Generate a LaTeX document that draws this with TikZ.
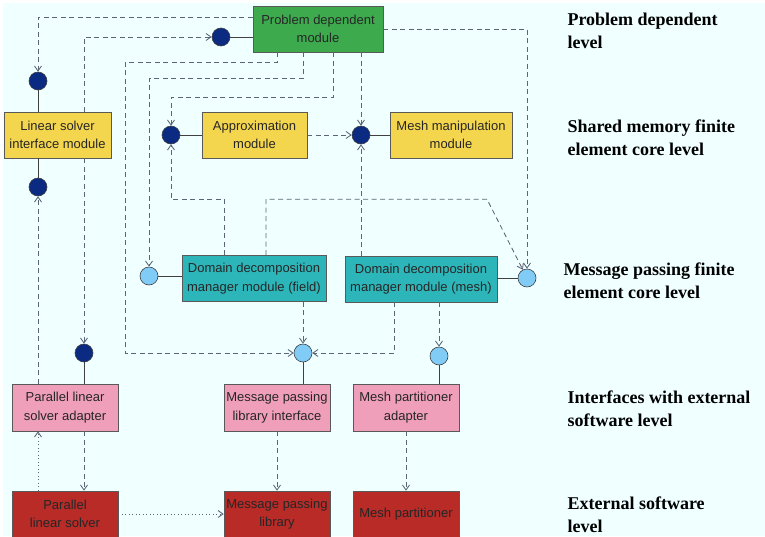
\documentclass[tikz,border=0pt]{standalone}
\usepackage{fontspec}
\setmainfont{Liberation Serif}
\setsansfont{Liberation Sans}
\usepackage{tikz}
\usetikzlibrary{shapes,arrows.meta}
\usetikzlibrary{calc}
\usetikzlibrary{positioning}

\definecolor{bgcol}{HTML}{F0FFFF}
\definecolor{pdgreen}{HTML}{3DAA4E}
\definecolor{coreyellow}{HTML}{F4D64E}
\definecolor{mpteal}{HTML}{2DB6B9}
\definecolor{ifpink}{HTML}{F09FBB}
\definecolor{extred}{HTML}{B82B27}
\definecolor{portdark}{HTML}{0B2A82}
\definecolor{portlight}{HTML}{80CCF7}
\definecolor{linkgray}{HTML}{5C6475}

\begin{document}
\begin{tikzpicture}[x=1pt,y=-1pt,
		module/.style={draw=black!65,line width=0.6pt,minimum height=46pt,inner sep=2pt,align=center,
			font=\sffamily\fontsize{13}{18.5}\selectfont,text=black!85},
		pdmod/.style={module,fill=pdgreen},
		coremod/.style={module,fill=coreyellow},
		mpmod/.style={module,fill=mpteal},
		ifmod/.style={module,fill=ifpink},
		extmod/.style={module,fill=extred},
		port/.style={circle,draw=black!75,line width=0.6pt,minimum size=18pt,inner sep=0pt},
		darkport/.style={port,fill=portdark},
		lightport/.style={port,fill=portlight},
		wire/.style={draw=black!75,line width=0.8pt},
		dep/.style={draw=linkgray,line width=0.85pt,dash pattern=on 5pt off 3.5pt,
			-{Straight Barb[length=5pt,width=7pt]}},
		uses/.style={draw=linkgray,line width=0.85pt,dash pattern=on 1pt off 2.5pt,
			-{Straight Barb[length=5pt,width=7pt]}},
		level/.style={anchor=west,align=left,font=\bfseries\fontsize{18}{23}\selectfont}]
		\useasboundingbox (0,0) rectangle (765,536);
		\clip (0,0) rectangle (765,536);
		\fill[white] (0,0) rectangle (765,536);
		\fill[bgcol] (3,3) rectangle (765,536);

		% modules
		\node[pdmod,minimum width=130pt] (pd) at (318,29) {Problem dependent\\module};
		\node[coremod,minimum width=107pt] (lsi) at (57.5,135) {Linear solver\\interface module};
		\node[coremod,minimum width=105pt] (approx) at (254.5,135) {Approximation\\module};
		\node[coremod,minimum width=122pt] (meshman) at (451,135) {Mesh manipulation\\module};
		\node[mpmod,minimum width=144pt] (ddf) at (254,278.5) {Domain decomposition\\manager module (field)};
		\node[mpmod,minimum width=152pt] (ddm) at (421,279) {Domain decomposition\\manager module (mesh)};
		\node[ifmod,minimum width=106pt,minimum height=47pt] (plsa) at (65,407.5) {Parallel linear\\solver adapter};
		\node[ifmod,minimum width=106pt,minimum height=47pt] (mpli) at (277,407.5) {Message passing\\library interface};
		\node[ifmod,minimum width=106pt,minimum height=47pt] (mpa) at (406,407.5) {Mesh partitioner\\adapter};
		\node[extmod,minimum width=106pt] (pls) at (65,514) {Parallel\\linear solver};
		\node[extmod,minimum width=106pt] (mpl) at (277,514) {Message passing\\library};
		\node[extmod,minimum width=106pt] (mp) at (406,514) {Mesh partitioner};

		% ports
		\node[darkport] (pdport) at (221,37) {};
		\node[darkport] (lsiup) at (38,81) {};
		\node[darkport] (lsidown) at (38,187) {};
		\node[darkport] (apport) at (171,135) {};
		\node[darkport] (mmport) at (361,135) {};
		\node[lightport] (ddfport) at (149,276) {};
		\node[lightport] (ddmport) at (527,278) {};
		\node[darkport] (plsaport) at (84,353) {};
		\node[lightport] (mpliport) at (303,353) {};
		\node[lightport] (mpaport) at (439,356) {};

		\draw[wire] (pdport) -- (pdport -| pd.west);
		\draw[wire] (lsiup) -- (lsiup |- lsi.north);
		\draw[wire] (lsidown) -- (lsidown |- lsi.south);
		\draw[wire] (apport) -- (approx.west);
		\draw[wire] (mmport) -- (meshman.west);
		\draw[wire] (ddfport) -- (ddfport -| ddf.west);
		\draw[wire] (ddmport) -- (ddmport -| ddm.east);
		\draw[wire] (plsaport) -- (plsaport |- plsa.north);
		\draw[wire] (mpliport) -- (mpliport |- mpli.north);
		\draw[wire] (mpaport) -- (mpaport |- mpa.north);

		% dependencies
		\draw[dep] ([yshift=12pt]pd.west) -| (lsiup);
		\draw[dep] (lsi.north -| plsaport) |- (pdport);
		\draw[dep] (lsi.south -| plsaport) -- (plsaport);
		\draw[dep] ([xshift=-41pt]pd.south) |- ++(-152,10) |- (mpliport);
		\draw[dep] ([xshift=-15pt]pd.south) |- ++(-154,26) -- (ddfport);
		\draw[dep] ([xshift=15pt]pd.south) |- ++(-162,45) -- (apport);
		\draw[dep] (pd.south -| mmport) -- (mmport);
		\draw[dep] (pd.east) -| (ddmport);
		\draw[dep] (approx.east) -- (mmport);
		\draw[dep] ([xshift=-30pt]ddf.north) |- ++(-53,-56) -- (apport);
		\draw[dep] ([xshift=12pt]ddf.north) |- ++(221,-56) -- (ddmport);
		\draw[dep] (ddm.north -| mmport) -- (mmport);
		\draw[dep] (ddf.south -| mpliport) -- (mpliport);
		\draw[dep] ([xshift=-27pt]ddm.south) |- (mpliport);
		\draw[dep] (ddm.south -| mpaport) -- (mpaport);
		\draw[dep] (plsa.north -| lsidown) -- (lsidown);
		\draw[dep] (plsa.south -| plsaport) -- (pls.north -| plsaport);
		\draw[dep] (mpli.south) -- (mpl.north);
		\draw[dep] (mpa.south) -- (mp.north);
		\draw[uses] (pls.north -| lsidown) -- (plsa.south -| lsidown);
		\draw[uses] (pls.east) -- (mpl.west);

		% levels
		\node[level] (lvpd) at (564,31) {Problem dependent\\level};
		\node[level] (lvshm) at (564,138) {Shared memory finite\\element core level};
		\node[level] (lvmp) at (560,281) {Message passing finite\\element core level};
		\node[level] (lvif) at (564,409) {Interfaces with external\\software level};
		\node[level] (lvext) at (564,515) {External software\\level};
\end{tikzpicture}
\end{document}
